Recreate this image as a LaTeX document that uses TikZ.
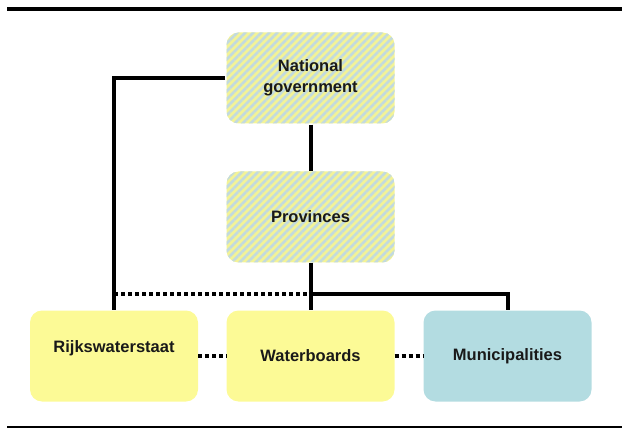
\documentclass[tikz,border=0pt]{standalone}
\usepackage{fontspec}
\setmainfont{Liberation Sans}
\usetikzlibrary{patterns.meta}
\definecolor{boxyellow}{HTML}{FCFA96}
\definecolor{boxblue}{HTML}{B3DCE1}
\definecolor{hatchyellow}{HTML}{F3F396}
\definecolor{hatchblue}{HTML}{C2DADF}
\tikzset{
  orgbox/.style={rounded corners=12pt, minimum width=168pt, minimum height=91pt, inner sep=0pt},
  hatched/.style={orgbox, preaction={fill=hatchyellow}, pattern={Lines[angle=45,distance=5.657pt,line width=2.5pt]}, pattern color=hatchblue},
  plain/.style={orgbox, fill=boxyellow},
  blue/.style={orgbox, fill=boxblue},
  lbl/.style={font=\fontsize{16.5}{20.5}\selectfont\bfseries, align=center, text=black!90},
  link/.style={line width=4pt},
  dotlink/.style={line width=4.5pt, dash pattern=on 4pt off 3pt},
  rule/.style={line width=4pt}
}
\begin{document}
\begin{tikzpicture}[x=1pt,y=-1pt]
\useasboundingbox (0,0) rectangle (626,430);
\coordinate (tl) at (7,9);
\coordinate (tr) at (622,9);
\coordinate (bl) at (7,427);
\coordinate (br) at (622,427);
\draw[rule] (tl) -- (tr);
\draw[line width=2.5pt] (bl) -- (br);

\node[hatched] (nat) at (310.5,78) {};
\node[lbl] (natt) at (nat.center) {National\\government};
\node[hatched] (prov) at (310.5,217) {};
\node[lbl] (provt) at (prov.center) {Provinces};
\node[plain] (rws) at (114,356) {};
\node[lbl] (rwst) at ([yshift=8pt]rws.center) {Rijkswaterstaat};
\node[plain] (wb) at (310.5,356) {};
\node[lbl] (wbt) at (wb.center) {Waterboards};
\node[blue] (mun) at (507.5,356) {};
\node[lbl] (munt) at (mun.center) {Municipalities};

\coordinate (j) at (prov.south |- 0,294);
\draw[link] (nat.south) -- (prov.north);
\draw[link] (nat.west) -| (rws.north);
\draw[link] (prov.south) -- (wb.north);
\draw[link] ([xshift=-2pt]j) -| (mun.north);
\draw[dotlink] (rws.north |- j) -- (j);
\draw[dotlink] (rws.east) -- (wb.west);
\draw[dotlink] (wb.east) -- (mun.west);
\end{tikzpicture}
\end{document}
